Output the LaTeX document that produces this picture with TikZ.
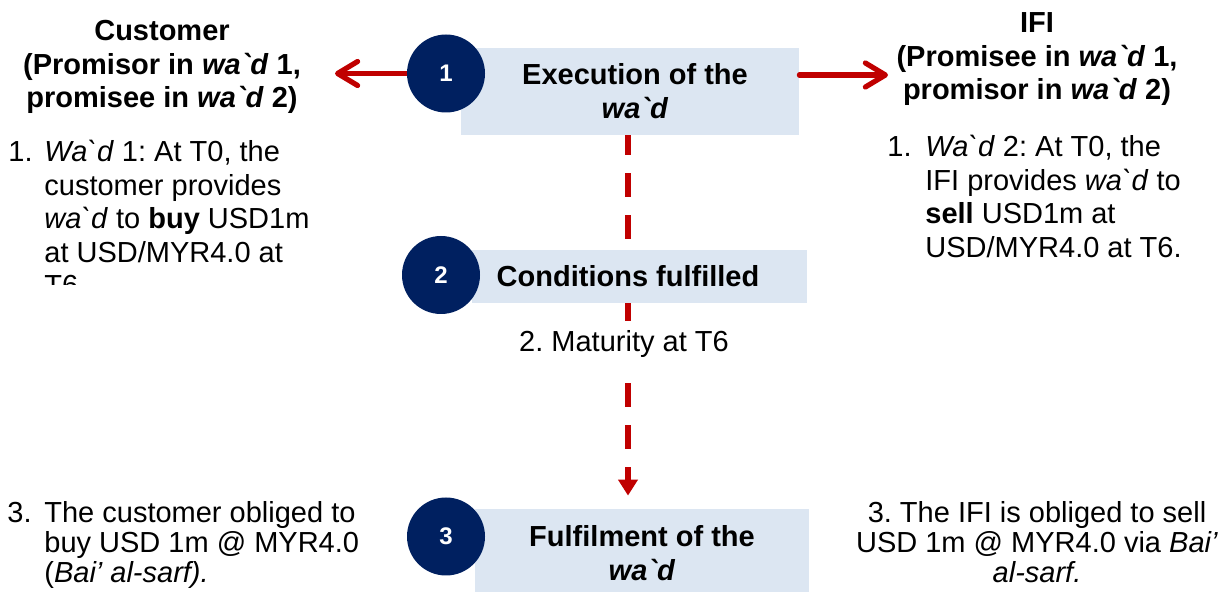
\documentclass[tikz,border=0pt]{standalone}
\usepackage{fontspec}
\setmainfont{Liberation Sans}
\usetikzlibrary{arrows.meta}
\definecolor{navyc}{HTML}{002060}
\definecolor{boxblue}{HTML}{DCE6F2}
\definecolor{wredc}{HTML}{C00000}
\frenchspacing
\newcommand\wad{\textit{wa\textasciigrave d}}
\newcommand\Wad{\textit{Wa\textasciigrave d}}
\newcommand\bfont{\fontsize{14.5}{16.75}\selectfont}
\newcommand\bfontb{\fontsize{14.5}{15}\selectfont}
\tikzset{
  stepbox/.style={fill=boxblue, draw=none, inner sep=0pt},
  numcirc/.style={circle, fill=navyc, draw=none, minimum size=39pt, inner sep=0pt,
    text=white, font=\fontsize{12}{14}\selectfont\bfseries},
  txt/.style={inner sep=0pt, anchor=base},
  txtl/.style={inner sep=0pt, anchor=base west},
  harrow/.style={draw=wredc, line width=2.6pt, line cap=round,
    -{Straight Barb[length=10pt,width=12pt,line cap=round,line join=round]}},
  varrow/.style={draw=wredc, line width=3pt, dash pattern=on 12pt off 9pt, dash phase=2pt,
    -{Triangle[length=8pt,width=9.5pt]}, shorten >=6.5pt},
}
\begin{document}
\begin{tikzpicture}[x=0.5pt,y=-0.5pt]
\useasboundingbox (0,0) rectangle (1232,592);
% boxes
\node[stepbox, minimum width=169pt, minimum height=43.5pt] (b1) at (630,91.5) {};
\node[stepbox, minimum width=167pt, minimum height=43.5pt] (b3) at (642,552.5) {};
% vertical dashed connector
\coordinate (vx) at (628,0);
\draw[varrow] (b1.south -| vx) -- (b3.north -| vx);
\node[stepbox, minimum width=167.5pt, minimum height=26.5pt] (b2) at (639.5,276.5) {};
% horizontal arrows
\coordinate (c1p) at (446,73.5);
\coordinate (la) at (335,73.5);
\coordinate (ra) at (888,75);
\draw[harrow] (c1p) -- (la);
\draw[harrow] (b1.east |- ra) -- (ra);
\node[numcirc] (c1) at (c1p) {1};
\node[numcirc] (c2) at (441,275) {2};
\node[numcirc] (c3) at (446,536.5) {3};
% box texts
\node[txt] (t1) at (635,85) {\parbox[t]{200pt}{\centering\bfont\bfseries Execution of the\\\wad}};
\node[txt] (t2) at (628,287) {\bfont\bfseries Conditions fulfilled};
\node[txt] (t3) at (642,547) {\parbox[t]{200pt}{\centering\bfont\bfseries Fulfilment of the\\\wad}};
\node[txt, fill=white, inner xsep=2pt, inner ysep=5pt] (mat) at (624,352) {\bfont 2. Maturity at T6};
% headers
\node[txt] (hc) at (162,41) {\parbox[t]{200pt}{\centering\bfont\bfseries Customer\\(Promisor in \wad\ 1,\\promisee in \wad\ 2)}};
\node[txt] (hi) at (1037,33) {\parbox[t]{200pt}{\centering\bfont\bfseries IFI\\(Promisee in \wad\ 1,\\promisor in \wad\ 2)}};
% left body 1
\begin{scope}
\clip (0,0) rectangle (420,285);
\node[txtl] (n1l) at (8,162) {\bfont 1.};
\node[txtl] (l1) at (44,162) {\parbox[t]{200pt}{\raggedright\bfont \Wad\ 1: At T0, the\\customer provides\\\wad\ to \textbf{buy} USD1m\\at USD/MYR4.0 at\\T6.}};
\end{scope}
% right body 1
\node[txtl] (n1r) at (887,157) {\bfont 1.};
\node[txtl] (r1) at (925,157) {\parbox[t]{200pt}{\raggedright\bfont \Wad\ 2: At T0, the\\IFI provides \wad\ to\\\textbf{sell} USD1m at\\USD/MYR4.0 at T6.}};
% bottom left
\node[txtl] (n3l) at (7,523) {\bfontb 3.};
\node[txtl] (l3) at (44,523) {\parbox[t]{200pt}{\raggedright\bfontb The customer obliged to\\buy USD 1m @ MYR4.0\\(\textit{Bai’ al-sarf).}}};
% bottom right
\node[txt] (r3) at (1037,523) {\parbox[t]{220pt}{\centering\bfontb 3. The IFI is obliged to sell\\USD 1m @ MYR4.0 via \textit{Bai’}\\\textit{al-sarf.}}};
\end{tikzpicture}
\end{document}
